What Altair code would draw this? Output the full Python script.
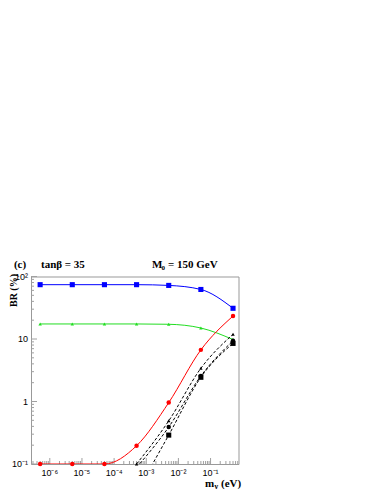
import altair as alt
import pandas as pd

# ---- data ----
m_all = [5e-7, 5e-6, 5e-5, 5e-4, 5e-3, 5e-2, 5e-1]
blue = [74, 74, 74, 74, 72, 62, 31]
green = [17.4, 17.4, 17.4, 17.4, 17.2, 15.0, 9.8]
red = [0.1, 0.1, 0.1, 0.196, 0.96, 6.7, 23.3]

m_black = [5e-4, 5e-3, 5e-2, 5e-1]
black1 = [0.1, 0.49, 3.4, 11.9]
black2 = [0.088, 0.39, 2.56, 9.4]
black3 = [0.035, 0.29, 2.44, 8.5]

x_major = [1e-6, 1e-5, 1e-4, 1e-3, 1e-2, 1e-1]
x_major_labels = ["10⁻⁶", "10⁻⁵", "10⁻⁴", "10⁻³", "10⁻²", "10⁻¹"]
y_major = [0.1, 1, 10, 100]
y_major_labels = ["10⁻¹", "1", "10", "10²"]

X_DOM = [2.6e-7, 0.74]
Y_DOM = [0.1, 100]
W, H = 207.5, 187.5

xs = alt.Scale(type="log", domain=X_DOM, nice=False)
ys = alt.Scale(type="log", domain=Y_DOM, nice=False)


def series(xv, yv, color, shape, size, dash=None, width=1.0):
    df = pd.DataFrame({"m": xv, "br": yv})
    line_kwargs = dict(color=color, strokeWidth=width, interpolate="monotone", clip=True)
    if dash:
        line_kwargs["strokeDash"] = dash
    line = alt.Chart(df).mark_line(**line_kwargs).encode(
        x=alt.X("m:Q", scale=xs, axis=None),
        y=alt.Y("br:Q", scale=ys, axis=None),
    )
    pts = alt.Chart(df[df["br"] >= 0.0999]).mark_point(
        shape=shape, size=size, filled=True, color=color, opacity=1
    ).encode(
        x=alt.X("m:Q", scale=xs, axis=None),
        y=alt.Y("br:Q", scale=ys, axis=None),
    )
    return [line, pts]


layers = []

# ---- inside ticks (rules) ----
tick_color = "#a0a0a0"
xt = []
for e in range(-7, 1):
    for k in range(1, 10):
        v = k * 10.0 ** e
        if X_DOM[0] <= v <= X_DOM[1]:
            xt.append({"v": v, "len": 6 if k == 1 else 3})
yt = []
for e in range(-1, 3):
    for k in range(1, 10):
        v = k * 10.0 ** e
        if Y_DOM[0] <= v <= Y_DOM[1]:
            yt.append({"v": v, "len": 6 if k == 1 else 3})
xt_df = pd.DataFrame(xt)
yt_df = pd.DataFrame(yt)
for ln in (6, 3):
    layers.append(
        alt.Chart(xt_df[xt_df["len"] == ln]).mark_rule(color=tick_color, strokeWidth=1).encode(
            x=alt.X("v:Q", scale=xs, axis=None),
            y=alt.value(H),
            y2=alt.value(H - ln),
        )
    )
    layers.append(
        alt.Chart(yt_df[yt_df["len"] == ln]).mark_rule(color=tick_color, strokeWidth=1).encode(
            y=alt.Y("v:Q", scale=ys, axis=None),
            x=alt.value(0),
            x2=alt.value(ln),
        )
    )

# ---- tick labels ----
lab_font = "Liberation Sans"
layers.append(
    alt.Chart(pd.DataFrame({"v": x_major, "t": x_major_labels})).mark_text(
        font=lab_font, fontSize=9, color="black", baseline="middle", align="center"
    ).encode(x=alt.X("v:Q", scale=xs, axis=None), y=alt.value(H + 8.5), text="t:N")
)
layers.append(
    alt.Chart(pd.DataFrame({"v": y_major, "t": y_major_labels})).mark_text(
        font=lab_font, fontSize=9, color="black", baseline="middle", align="right"
    ).encode(y=alt.Y("v:Q", scale=ys, axis=None), x=alt.value(-3), text="t:N")
)

# ---- series ----
layers += series(m_all, blue, "#0000ff", "square", 26)
layers += series(m_all, green, "#22dd22", "triangle-up", 12)
layers += series(m_all, red, "#ff0000", "circle", 20)
layers += series(m_black, black1, "#000000", "triangle-up", 12, dash=[3, 2])
layers += series(m_black, black2, "#000000", "circle", 20, dash=[3, 2])
layers += series(m_black, black3, "#000000", "square", 26, dash=[3, 2])

# ---- annotations ----
serif = "Liberation Serif"


def txt(t, x, y, size=11, align="left", angle=None, baseline="middle"):
    kw = dict(text=t, font=serif, fontWeight="bold", fontSize=size, color="black",
              align=align, baseline=baseline)
    if angle is not None:
        kw["angle"] = angle
    return alt.Chart(pd.DataFrame({"a": [0]})).mark_text(**kw).encode(
        x=alt.value(x), y=alt.value(y)
    )


layers += [
    txt("(c)", -11, -11.5, align="center"),
    txt("tanβ = 35", 10, -11.5),
    txt("M", 121, -11.5),
    txt("0", 130.5, -9, size=7),
    txt("= 150 GeV", 137, -11.5),
    txt("BR (%)", -17, 14, size=10, angle=270, align="center"),
    txt("m", 174, 207.5),
    txt("ν", 183.5, 210, size=8),
    txt("(eV)", 190, 207.5),
]

chart = alt.layer(*layers).properties(
    width=W, height=H,
    autosize=alt.AutoSizeParams(type="none"),
    padding={"left": 23, "top": 268.5, "right": 20, "bottom": 26},
).configure_view(stroke="#999999", strokeWidth=1)

chart.save("out.html", embed_options={"renderer": "svg", "actions": False})
